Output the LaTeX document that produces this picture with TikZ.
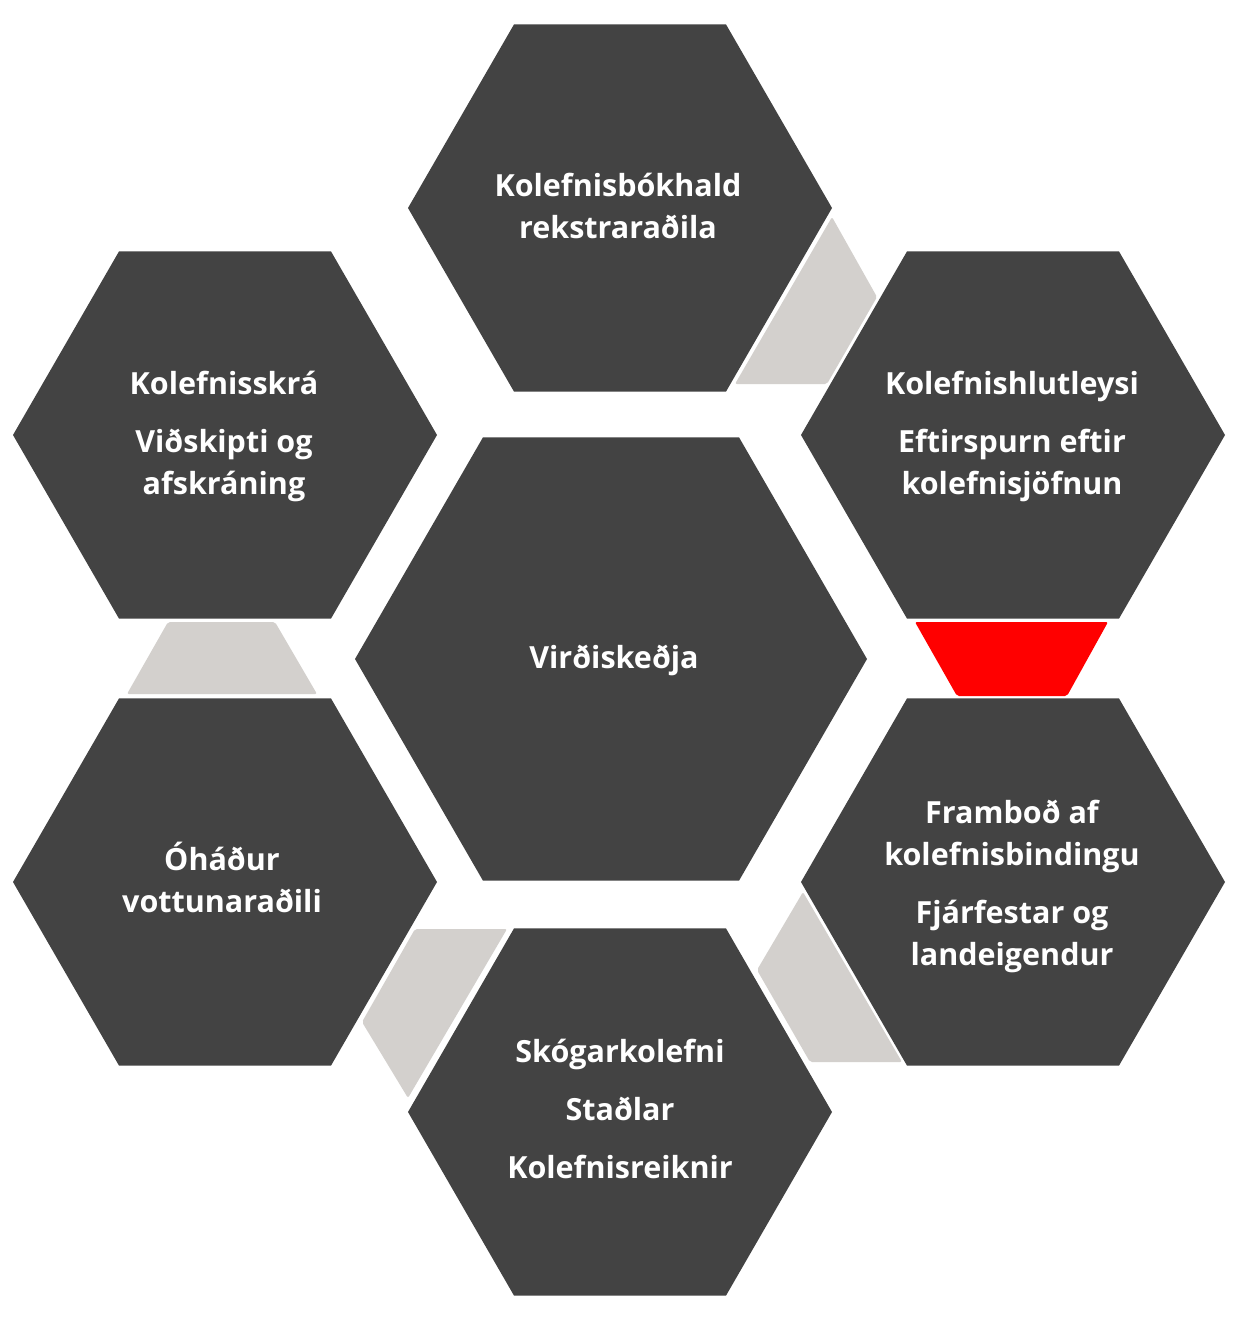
\documentclass[tikz,border=0pt]{standalone}
\usepackage{fontspec}
\setmainfont{Open Sans}
\usetikzlibrary{shapes.geometric}
\definecolor{hexdark}{HTML}{434343}
\definecolor{linkgray}{HTML}{D3D0CD}
\definecolor{linkred}{HTML}{FF0000}
\tikzset{
  hexa/.style={shape=regular polygon, regular polygon sides=6, fill=hexdark,
    inner sep=0pt, outer sep=0pt, minimum size=424pt},
  hexbig/.style={hexa, minimum size=512pt},
  hextext/.style={text=white, align=center, inner sep=0pt,
    font=\fontsize{30.5}{42}\selectfont\bfseries},
  linkg/.style={fill=linkgray, rounded corners=2pt},
  linkr/.style={fill=linkred, rounded corners=2pt}
}
\begin{document}
\begin{tikzpicture}[x=1pt,y=-1pt]
\useasboundingbox[fill=white] (0,0) rectangle (1240,1320);
% connectors
\fill[linkg] (832,217) -- (877,297) -- (827,384) -- (735,384) -- cycle;
\fill[linkr] (915,622) -- (1108,622) -- (1067,696) -- (957,696) -- cycle;
\fill[linkg] (168,622) -- (275,622) -- (317,694) -- (127,694) -- cycle;
\fill[linkg] (803,892) -- (902,1062) -- (810,1062) -- (757,970) -- cycle;
\fill[linkg] (415,929) -- (507,929) -- (408,1098) -- (362,1022) -- cycle;
% hexagons
\node[hexa] (htop) at (620,208) {};
\node[hexa] (hlt) at (225,435) {};
\node[hexa] (hrt) at (1013,435) {};
\node[hexbig] (hc) at (611,659) {};
\node[hexa] (hlb) at (225,882) {};
\node[hexa] (hrb) at (1013,882) {};
\node[hexa] (hb) at (620,1112) {};
% texts
\node[hextext] (ttop) at (618,206) {Kolefnisbókhald\\rekstraraðila};
\node[hextext] (tlt) at (224,436) {Kolefnisskrá\\[16pt]Viðskipti og\\afskráning};
\node[hextext] (trt) at (1012,436) {Kolefnishlutleysi\\[16pt]Eftirspurn eftir\\kolefnisjöfnun};
\node[hextext] (tc) at (614,660) {Virðiskeðja};
\node[hextext] (tlb) at (222,877) {Óháður\\vottunaraðili};
\node[hextext] (trb) at (1012,886) {Framboð af\\kolefnisbindingu\\[16pt]Fjárfestar og\\landeigendur};
\node[hextext] (tb) at (620,1109) {Skógarkolefni\\[16pt]Staðlar\\[16pt]Kolefnisreiknir};
\end{tikzpicture}
\end{document}
